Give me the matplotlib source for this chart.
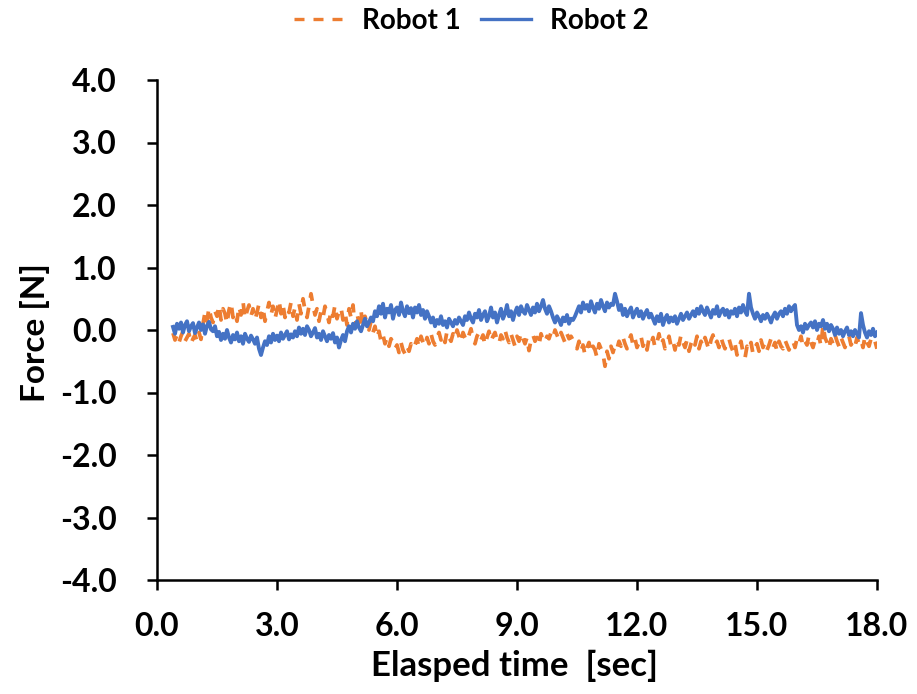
import numpy as np
import matplotlib
matplotlib.use("Agg")
import matplotlib.pyplot as plt

plt.rcParams['font.family'] = ['Lato', 'DejaVu Sans']
plt.rcParams['font.weight'] = 'bold'

# sample times (sec): 0.40 .. 18.00, every 0.05 s (one row = 1 s)
t_start = 0.4
t_step = 0.05

# Robot 1 force [N] (orange, dashed)
robot1 = [
    -0.05, -0.16, -0.08, -0.20, -0.10, -0.02, -0.18, -0.12, -0.06, -0.22, -0.14, -0.08, -0.18, -0.04, -0.15, 0.10, 0.28, 0.14, 0.36, 0.20,
    0.12, 0.30, 0.22, 0.40, 0.16, 0.34, 0.26, 0.10, 0.32, 0.44, 0.20, 0.28, 0.14, 0.38, 0.24, 0.46, 0.18, 0.30, 0.40, 0.22,
    0.34, 0.16, 0.28, 0.42, 0.20, 0.36, 0.14, 0.30, 0.44, 0.24, 0.38, 0.18, 0.32, 0.48, 0.26, 0.40, 0.20, 0.34, 0.28, 0.44,
    0.22, 0.36, 0.16, 0.42, 0.26, 0.50, 0.32, 0.20, 0.38, 0.58, 0.40, 0.24, 0.34, 0.14, 0.30, 0.20, 0.38, 0.26, 0.12, 0.32,
    0.22, 0.40, 0.18, 0.30, 0.36, 0.16, 0.28, 0.08, 0.34, 0.20, 0.40, 0.04, 0.26, 0.12, 0.32, 0.02, 0.22, 0.10, 0.00, 0.14,
    -0.04, 0.06, -0.12, -0.02, -0.18, -0.08, -0.22, -0.12, -0.26, -0.14, -0.20, -0.30, -0.24, -0.36, -0.20, -0.32, -0.38, -0.26, -0.34, -0.22,
    -0.30, -0.24, -0.14, -0.28, -0.10, -0.20, -0.26, -0.12, -0.22, -0.06, -0.18, -0.24, -0.12, -0.04, -0.16, -0.08, -0.20, -0.02, -0.12, -0.18,
    -0.06, -0.14, 0.00, -0.10, -0.20, -0.04, -0.12, -0.18, -0.08, 0.02, -0.14, -0.22, -0.10, -0.04, -0.16, -0.08, -0.24, -0.12, -0.02, -0.18,
    -0.10, -0.04, -0.16, -0.22, -0.08, -0.14, 0.00, -0.12, -0.20, -0.06, -0.16, -0.26, -0.10, -0.18, -0.04, -0.14, -0.22, -0.12, -0.33, -0.16,
    -0.08, -0.18, -0.12, -0.24, -0.06, -0.16, -0.20, -0.10, -0.14, -0.04, -0.12, 0.00, -0.08, -0.16, -0.04, -0.12, -0.20, -0.06, -0.14, -0.10,
    -0.16, -0.22, -0.30, -0.18, -0.34, -0.24, -0.40, -0.28, -0.20, -0.36, -0.26, -0.32, -0.44, -0.22, -0.30, -0.38, -0.58, -0.34, -0.46, -0.26,
    -0.36, -0.24, -0.30, -0.18, -0.26, -0.12, -0.22, -0.30, -0.16, -0.08, -0.24, -0.14, -0.28, -0.20, -0.10, -0.26, -0.18, -0.32, -0.14, -0.22,
    -0.12, -0.28, -0.20, -0.06, -0.24, -0.16, -0.30, -0.22, -0.10, -0.26, -0.18, -0.32, -0.14, -0.24, -0.08, -0.20, -0.28, -0.16, -0.34, -0.22,
    -0.14, -0.24, -0.10, -0.30, -0.18, -0.26, -0.12, -0.22, -0.32, -0.16, -0.08, -0.24, -0.18, -0.28, -0.12, -0.22, -0.30, -0.20, -0.14, -0.26,
    -0.34, -0.22, -0.40, -0.28, -0.18, -0.36, -0.45, -0.26, -0.32, -0.20, -0.38, -0.28, -0.22, -0.34, -0.16, -0.28, -0.20, -0.32, -0.24, -0.14,
    -0.28, -0.20, -0.34, -0.18, -0.26, -0.30, -0.16, -0.24, -0.32, -0.22, -0.18, -0.28, -0.14, -0.22, -0.10, -0.26, -0.18, -0.24, -0.08, -0.20,
    -0.28, -0.16, -0.22, -0.10, -0.26, 0.08, -0.12, -0.20, -0.30, -0.14, -0.22, -0.08, -0.18, -0.26, -0.12, -0.20, -0.28, -0.16, -0.10, -0.24,
    -0.18, -0.26, -0.12, -0.22, -0.16, -0.28, -0.10, -0.20, -0.26, -0.14, -0.22, -0.18, -0.30,
]

# Robot 2 force [N] (blue, solid)
robot2 = [
    0.05, -0.06, 0.10, 0.02, 0.12, -0.04, 0.08, 0.14, -0.02, 0.06, 0.11, -0.05, 0.04, 0.12, 0.00, 0.09, -0.06, 0.07, 0.13, 0.01,
    -0.02, 0.06, -0.10, -0.03, -0.16, -0.06, -0.14, 0.00, -0.12, -0.20, -0.08, -0.15, -0.04, -0.18, -0.10, -0.22, -0.06, -0.14, -0.19, -0.09,
    -0.15, -0.22, -0.12, -0.30, -0.40, -0.28, -0.18, -0.24, -0.10, -0.20, -0.06, -0.16, -0.09, -0.18, -0.04, -0.14, -0.08, -0.02, -0.15, -0.07,
    -0.12, -0.02, -0.10, 0.04, -0.06, 0.02, -0.08, 0.06, 0.00, -0.10, -0.04, 0.03, -0.12, -0.06, -0.16, -0.02, -0.10, -0.18, -0.08, -0.14,
    -0.05, -0.20, -0.12, -0.28, -0.16, -0.08, -0.18, -0.02, 0.06, -0.04, 0.10, 0.02, 0.14, 0.04, -0.02, 0.08, 0.18, 0.06, 0.12, 0.20,
    0.14, 0.30, 0.22, 0.38, 0.26, 0.42, 0.20, 0.34, 0.28, 0.40, 0.18, 0.32, 0.36, 0.24, 0.44, 0.30, 0.22, 0.38, 0.27, 0.35,
    0.20, 0.36, 0.28, 0.40, 0.24, 0.32, 0.18, 0.30, 0.22, 0.12, 0.20, 0.06, 0.16, 0.10, 0.22, 0.08, 0.14, 0.04, 0.18, 0.12,
    0.06, 0.16, 0.10, 0.20, 0.14, 0.08, 0.22, 0.16, 0.28, 0.18, 0.12, 0.26, 0.20, 0.32, 0.16, 0.24, 0.30, 0.14, 0.22, 0.36,
    0.20, 0.28, 0.12, 0.24, 0.34, 0.18, 0.26, 0.40, 0.22, 0.30, 0.16, 0.28, 0.36, 0.24, 0.38, 0.30, 0.26, 0.40, 0.32, 0.24,
    0.36, 0.28, 0.42, 0.30, 0.38, 0.48, 0.34, 0.26, 0.38, 0.30, 0.20, 0.12, 0.22, 0.16, 0.08, 0.20, 0.14, 0.24, 0.10, 0.18,
    0.16, 0.22, 0.30, 0.38, 0.28, 0.44, 0.34, 0.40, 0.30, 0.46, 0.36, 0.28, 0.42, 0.34, 0.48, 0.38, 0.30, 0.44, 0.36, 0.42,
    0.40, 0.58, 0.46, 0.32, 0.40, 0.24, 0.34, 0.22, 0.30, 0.36, 0.20, 0.28, 0.34, 0.22, 0.30, 0.18, 0.26, 0.32, 0.20, 0.26,
    0.18, 0.10, 0.22, 0.14, 0.26, 0.08, 0.18, 0.24, 0.12, 0.20, 0.14, 0.22, 0.10, 0.18, 0.26, 0.16, 0.22, 0.28, 0.18, 0.24,
    0.30, 0.22, 0.34, 0.26, 0.38, 0.30, 0.24, 0.36, 0.28, 0.20, 0.32, 0.26, 0.38, 0.22, 0.30, 0.34, 0.24, 0.32, 0.20, 0.30,
    0.26, 0.34, 0.22, 0.36, 0.28, 0.40, 0.30, 0.24, 0.58, 0.36, 0.26, 0.18, 0.28, 0.22, 0.14, 0.24, 0.18, 0.26, 0.20, 0.12,
    0.22, 0.28, 0.18, 0.26, 0.30, 0.22, 0.34, 0.26, 0.38, 0.30, 0.36, 0.40, 0.08, 0.00, 0.06, -0.04, 0.10, 0.02, 0.08, 0.12,
    0.04, 0.14, 0.00, 0.10, 0.06, 0.16, 0.02, 0.10, -0.02, 0.08, 0.02, -0.08, 0.04, -0.06, 0.00, -0.10, -0.02, 0.04, -0.08, -0.02,
    -0.10, 0.00, -0.06, -0.12, 0.27, 0.08, -0.04, -0.12, -0.02, -0.08, 0.02, -0.10, -0.04,
]

xticks = [0, 3, 6, 9, 12, 15, 18]
yticks = [-4, -3, -2, -1, 0, 1, 2, 3, 4]

time1 = t_start + t_step * np.arange(len(robot1))
time2 = t_start + t_step * np.arange(len(robot2))

fig = plt.figure(figsize=(9.17, 6.94), dpi=100)
ax = fig.add_axes([157/917, 1-580/694, 720/917, 500/694])

ax.plot(time1, robot1, color='#ED7D31', lw=2.7, linestyle=(0, (3, 2.7)), label='Robot 1')
ax.plot(time2, robot2, color='#4472C4', lw=2.8, label='Robot 2')

ax.set_xlim(0, 18)
ax.set_ylim(-4, 4)
ax.set_xticks(xticks)
ax.set_yticks(yticks)
ax.set_xticklabels([f"{v:.1f}" for v in xticks])
ax.set_yticklabels([f"{v:.1f}" for v in yticks])

for s in ['top', 'right']:
    ax.spines[s].set_visible(False)
for s in ['left', 'bottom']:
    ax.spines[s].set_linewidth(1.8)
ax.tick_params(axis='both', direction='out', length=7.2, width=1.8, labelsize=23)
ax.tick_params(axis='y', pad=22)
ax.tick_params(axis='x', pad=16)

ax.set_xlabel("Elasped time  [sec]", fontsize=25, fontweight='bold')
ax.set_ylabel("Force [N]", fontsize=24, fontweight='bold')
ax.xaxis.set_label_coords(0.497, -0.140)
ax.yaxis.set_label_coords(-0.149, 0.495)

leg = fig.legend(loc='center', bbox_to_anchor=(471/917, 1-21/694), ncol=2, frameon=False,
                 prop={'size': 20, 'weight': 'bold'}, handlelength=1.8,
                 handletextpad=0.65, columnspacing=0.75)
for h in leg.get_lines():
    h.set_linewidth(2.4)

fig.savefig("out.png", dpi=100)
